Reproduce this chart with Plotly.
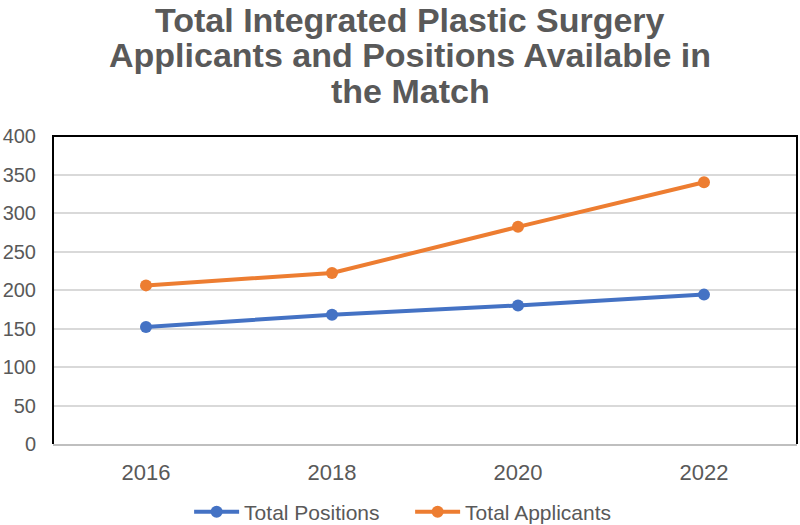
import plotly.graph_objects as go

years = ["2016", "2018", "2020", "2022"]
total_positions = [152, 168, 180, 194]
total_applicants = [206, 222, 282, 340]
y_ticks = [0, 50, 100, 150, 200, 250, 300, 350, 400]
title_lines = ["Total Integrated Plastic Surgery",
               "Applicants and Positions Available in",
               "the Match"]
title_centers_px = [20, 55, 91]

FONT = "Liberation Sans, Arial, sans-serif"
GRAY = "#595959"

fig = go.Figure()
fig.add_trace(go.Scatter(x=years, y=total_positions, name="Total Positions",
                         mode="lines+markers",
                         line=dict(color="#4472C4", width=4),
                         marker=dict(size=12, color="#4472C4")))
fig.add_trace(go.Scatter(x=years, y=total_applicants, name="Total Applicants",
                         mode="lines+markers",
                         line=dict(color="#ED7D31", width=4),
                         marker=dict(size=12, color="#ED7D31")))

PLOT_TOP, PLOT_H = 136, 308
annotations = []
for t, cy in zip(title_lines, title_centers_px):
    annotations.append(dict(text=f"<b>{t}</b>", xref="paper", yref="paper",
                            x=0.48, y=1 + (PLOT_TOP - cy) / PLOT_H,
                            xanchor="center", yanchor="middle", showarrow=False,
                            font=dict(family=FONT, size=34, color=GRAY)))

fig.update_layout(
    width=800, height=525,
    margin=dict(l=53, r=3, t=136, b=81, autoexpand=False),
    paper_bgcolor="white", plot_bgcolor="white",
    font=dict(family=FONT, size=21, color=GRAY),
    showlegend=True,
    legend=dict(orientation="h", x=0.480, xanchor="center", y=-0.221, yanchor="middle",
                itemwidth=45, entrywidth=161, entrywidthmode="pixels",
                font=dict(family=FONT, size=21, color=GRAY)),
    annotations=annotations,
    shapes=[dict(type="path", xref="paper", yref="paper",
                 path="M 0,0 L 0,1 L 1,1 L 1,0",
                 line=dict(color="black", width=2), layer="above")],
)
fig.update_xaxes(type="category", range=[-0.5, 3.5], showgrid=False,
                 showline=True, linecolor="#bfbfbf", linewidth=2,
                 ticks="outside", ticklen=8, tickcolor="rgba(0,0,0,0)",
                 tickfont=dict(family=FONT, size=22, color=GRAY), automargin=False)
fig.update_yaxes(range=[0, 400], tickvals=y_ticks, showgrid=True, gridcolor="#d9d9d9",
                 gridwidth=2, zeroline=False, showline=False,
                 ticks="outside", ticklen=12, tickcolor="rgba(0,0,0,0)",
                 tickfont=dict(family=FONT, size=20, color=GRAY), automargin=False)

fig.write_html("out.html", config={"displayModeBar": False},
               post_script="document.body.style.margin='0';")
